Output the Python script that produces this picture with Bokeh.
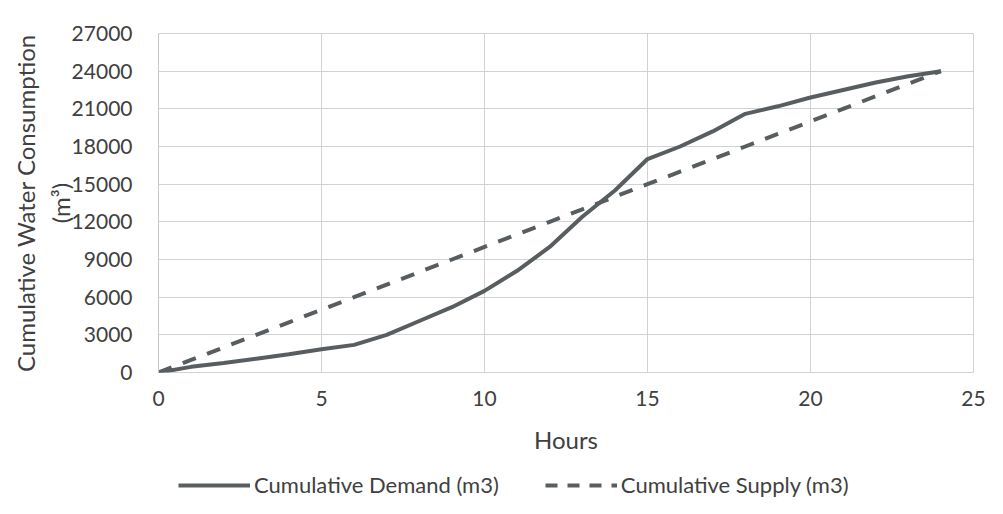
from bokeh.plotting import figure
from bokeh.models import Legend, LegendItem, ColumnDataSource, FixedTicker
from bokeh.layouts import column
from bokeh.embed import file_html
from bokeh.resources import INLINE

hours = list(range(0, 25))
demand = [0, 450, 750, 1100, 1450, 1850, 2200, 3000, 4100, 5200, 6500, 8100, 10000,
          12400, 14500, 17000, 18000, 19200, 20600, 21200, 21900, 22500, 23100, 23600, 24000]
supply = [0, 1000, 2000, 3000, 4000, 5000, 6000, 7000, 8000, 9000, 10000, 11000, 12000,
          13000, 14000, 15000, 16000, 17000, 18000, 19000, 20000, 21000, 22000, 23000, 24000]
x_ticks = [0, 5, 10, 15, 20, 25]
y_ticks = [0, 3000, 6000, 9000, 12000, 15000, 18000, 21000, 24000, 27000]
series_names = ["Cumulative Demand (m3)", "Cumulative Supply (m3)"]

FONT = "Lato"
TXT = "#404040"
LINE = "#585d60"
DASH = "14 12"

p = figure(width=1003, height=460, output_backend="svg", toolbar_location=None,
           x_range=(0, 25), y_range=(0, 27000),
           min_border_left=158, min_border_right=30, min_border_top=33, min_border_bottom=88)

src = ColumnDataSource(dict(h=hours, d=demand, s=supply))
p.line("h", "d", source=src, line_color=LINE, line_width=4)
p.line("h", "s", source=src, line_color=LINE, line_width=4, line_dash=DASH)

p.xaxis.ticker = FixedTicker(ticks=x_ticks)
p.yaxis.ticker = FixedTicker(ticks=y_ticks)
p.xaxis.minor_tick_line_color = None
p.yaxis.minor_tick_line_color = None
p.xaxis.major_tick_line_color = None
p.yaxis.major_tick_line_color = None
p.xaxis.axis_line_color = None
p.yaxis.axis_line_color = "#c8c8c8"
p.xaxis.major_label_standoff = 12
p.yaxis.major_label_standoff = 20
for ax in (p.xaxis, p.yaxis):
    ax.major_label_text_font = FONT
    ax.major_label_text_font_size = "21px"
    ax.major_label_text_color = TXT
    ax.axis_label_text_font = FONT
    ax.axis_label_text_color = TXT
    ax.axis_label_text_font_style = "normal"
p.xaxis.axis_label_text_font_size = "24px"
p.yaxis.axis_label_text_font_size = "24px"
p.xaxis.axis_label = "Hours"
p.xaxis.axis_label_standoff = 16
p.yaxis.axis_label = "Cumulative Water Consumption\n(m³)"
p.yaxis.axis_label_standoff = -6

p.xgrid.grid_line_color = "#d2d2d2"
p.ygrid.grid_line_color = "#d2d2d2"
p.outline_line_color = "#d2d2d2"
p.background_fill_color = "white"
p.border_fill_color = "white"

# legend strip below the chart (one-point lines: nothing drawn, legend glyphs only)
lg = figure(width=1003, height=54, output_backend="svg", toolbar_location=None,
            x_axis_type=None, y_axis_type=None, x_range=(0, 1), y_range=(0, 1),
            min_border_left=0, min_border_right=0, min_border_top=0, min_border_bottom=0)
lg.outline_line_color = None
lg.xgrid.visible = False
lg.ygrid.visible = False
key = ColumnDataSource(dict(h=hours[:1], d=demand[:1], s=supply[:1]))
k1 = lg.line("h", "d", source=key, line_color=LINE, line_width=4)
k2 = lg.line("h", "s", source=key, line_color=LINE, line_width=4, line_dash="12 10")
legend = Legend(items=[LegendItem(label=series_names[0], renderers=[k1]),
                       LegendItem(label=series_names[1], renderers=[k2])],
                orientation="horizontal", location=(20, 16),
                label_text_font=FONT, label_text_font_size="22px", label_text_color=TXT,
                glyph_width=72, glyph_height=20, label_height=20, label_standoff=4, spacing=46,
                border_line_color=None, background_fill_alpha=0, margin=0, padding=0)
lg.add_layout(legend, "center")

layout = column(p, lg, spacing=0)
open("out.html", "w").write(file_html(layout, INLINE))
